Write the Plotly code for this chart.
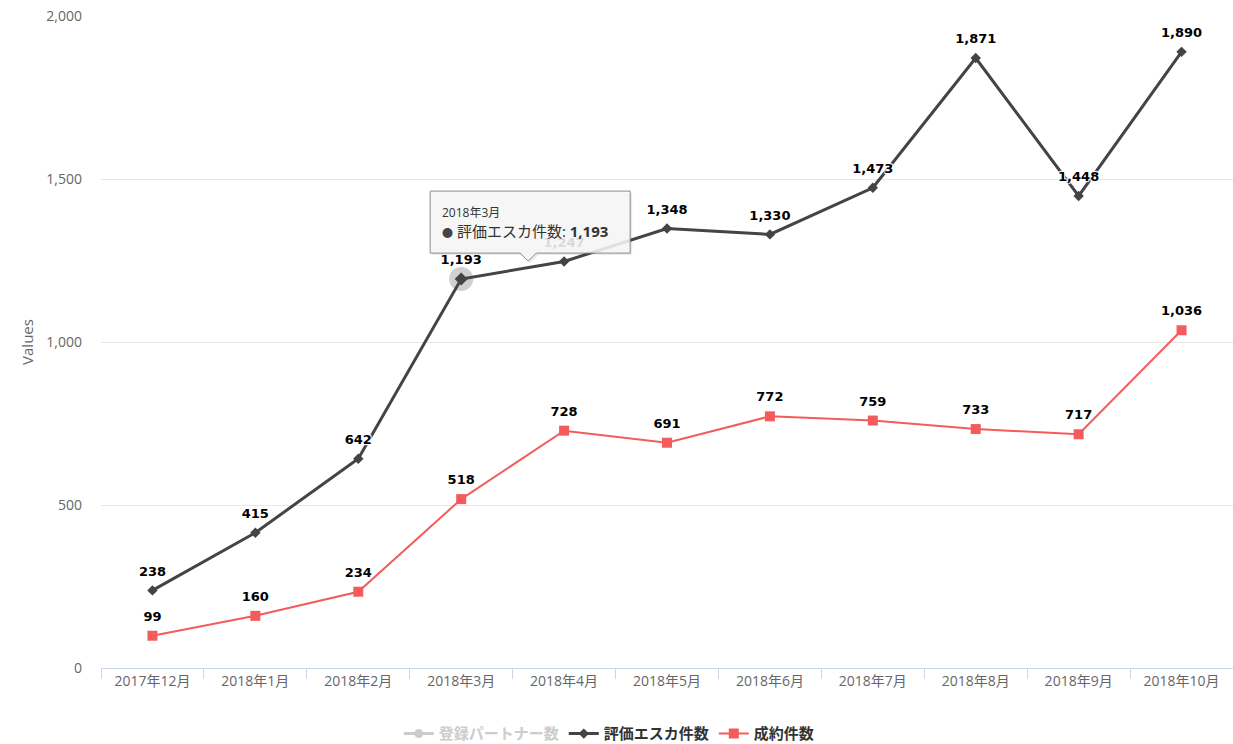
import plotly.graph_objects as go

months = ["2017年12月", "2018年1月", "2018年2月", "2018年3月", "2018年4月", "2018年5月",
          "2018年6月", "2018年7月", "2018年8月", "2018年9月", "2018年10月"]
partners = [None, None, None, None, None, None, None, None, None, None, None]  # series switched off
escalations = [238, 415, 642, 1193, 1247, 1348, 1330, 1473, 1871, 1448, 1890]
contracts = [99, 160, 234, 518, 728, 691, 772, 759, 733, 717, 1036]
hover_index = 3  # month the tooltip is shown for

FONT = "Open Sans, Noto Sans CJK JP, sans-serif"
LABEL_FONT = "DejaVu Sans, Noto Sans CJK JP, sans-serif"
DARK = "#434348"
RED = "#f45b5b"
OUTLINE = "1px 1px 1px #fff, -1px -1px 1px #fff, 1px -1px 1px #fff, -1px 1px 1px #fff"

fig = go.Figure()

fig.add_trace(go.Scatter(
    x=months, y=partners, name="<span style='color:#cccccc'>登録パートナー数</span>",
    mode="lines+markers", line=dict(color="#cccccc", width=3),
    marker=dict(symbol="circle", size=9, color="#cccccc"),
))

fig.add_trace(go.Scatter(
    x=months, y=escalations, name="評価エスカ件数",
    mode="lines+markers", line=dict(color=DARK, width=3),
    marker=dict(symbol="diamond", size=8, color=DARK),
))

fig.add_trace(go.Scatter(
    x=months, y=contracts, name="成約件数",
    mode="lines+markers", line=dict(color=RED, width=2),
    marker=dict(symbol="square", size=10, color=RED),
))

# value labels, drawn above both lines
for values in (escalations, contracts):
    fig.add_trace(go.Scatter(
        x=months, y=values, mode="markers+text",
        marker=dict(size=17, color="rgba(0,0,0,0)"),
        text=[f"{v:,}" for v in values], textposition="top center",
        textfont=dict(family=LABEL_FONT, size=13, color="#000", weight="bold", shadow=OUTLINE),
        cliponaxis=False, showlegend=False, hoverinfo="skip",
    ))

# hover halo around the highlighted point
fig.add_trace(go.Scatter(
    x=[months[hover_index]], y=[escalations[hover_index]], mode="markers",
    marker=dict(symbol="circle", size=24, color="rgba(67,67,72,0.25)"),
    showlegend=False, hoverinfo="skip",
))
fig.add_trace(go.Scatter(
    x=[months[hover_index]], y=[escalations[hover_index]], mode="markers",
    marker=dict(symbol="diamond", size=10, color=DARK),
    showlegend=False, hoverinfo="skip",
))

# tooltip callout (pixel offsets relative to the hovered point)
box = "M -31,88 L 169,88 L 169,26 L 75,26 L 67,18 L 59,26 L -31,26 Z"
shadow = "M -29,86 L 171,86 L 171,24 L 77,24 L 69,16 L 61,24 L -29,24 Z"
for path, fill, line in [(shadow, "rgba(0,0,0,0.08)", "rgba(0,0,0,0)"),
                         (box, "rgba(247,247,247,0.88)", "#8c8c8c")]:
    fig.add_shape(
        type="path", path=path, layer="above",
        xref="x", yref="y", xsizemode="pixel", ysizemode="pixel",
        xanchor=months[hover_index], yanchor=escalations[hover_index],
        fillcolor=fill, line=dict(color=line, width=1),
    )

fig.add_annotation(
    x=months[hover_index], y=escalations[hover_index], xref="x", yref="y",
    xshift=-21, yshift=57, xanchor="left", yanchor="middle", align="left",
    showarrow=False,
    text=(f"<span style='font-size:12px;color:#333'>{months[hover_index]}</span><br>"
          f"<span style='color:{DARK};font-size:11px'>●</span> 評価エスカ件数: "
          f"<b>{escalations[hover_index]:,}</b>"),
    font=dict(family=FONT, size=15, color="#333"),
)

fig.update_layout(
    width=1233, height=744,
    margin=dict(l=101, r=0, t=16, b=76, autoexpand=False),
    paper_bgcolor="white", plot_bgcolor="white",
    font=dict(family=FONT, color="#666"),
    showlegend=True,
    legend=dict(
        orientation="h", x=0.449, xanchor="center", y=-0.101, yanchor="middle",
        font=dict(family=FONT, size=15, color="#333", weight="bold"),
        itemwidth=30, traceorder="normal",
    ),
    xaxis=dict(
        type="category", categoryorder="array", categoryarray=months,
        tickson="boundaries", ticks="outside", ticklen=10, tickcolor="#ccd6eb",
        showline=True, linecolor="#ccd6eb", linewidth=1,
        showgrid=False, tickfont=dict(size=14, color="#666"),
        range=[-0.5, len(months) - 0.5], fixedrange=True,
    ),
    yaxis=dict(
        range=[0, 2000], tickvals=[0, 500, 1000, 1500, 2000],
        tickformat=",", showgrid=True, gridcolor="#e6e6e6", gridwidth=1,
        zeroline=False, tickfont=dict(size=14, color="#666"), ticklabelstandoff=18,
        title=dict(text="Values", font=dict(size=15, color="#666"), standoff=9),
    ),
)

fig.write_html("out.html")
